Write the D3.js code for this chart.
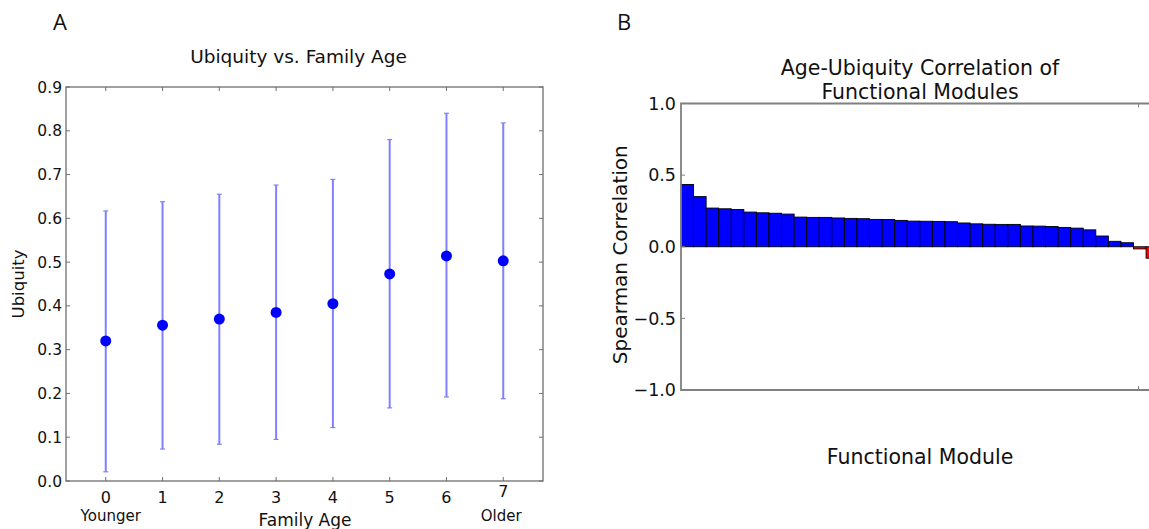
<!DOCTYPE html>
<html>
<head>
<meta charset="utf-8">
<script src="https://cdn.jsdelivr.net/npm/d3@7/dist/d3.min.js"></script>
<style>
  html, body { margin: 0; padding: 0; background: #fff; }
  svg { display: block; font-family: "DejaVu Sans", sans-serif; }
</style>
</head>
<body>
<svg id="chart" width="1149" height="529"></svg>
<script>
// ---------- Panel A data ----------
const ageCategories = [0, 1, 2, 3, 4, 5, 6, 7];
const ageTickLabels = ["0", "1", "2", "3", "4", "5", "6", "7"];
const ubiquityMean  = [0.320, 0.356, 0.370, 0.385, 0.405, 0.473, 0.514, 0.503];
const ubiquityUpper = [0.617, 0.638, 0.655, 0.676, 0.689, 0.780, 0.840, 0.818];
const ubiquityLower = [0.021, 0.073, 0.084, 0.095, 0.122, 0.167, 0.192, 0.188];
const ubiquityTicks = [0.0, 0.1, 0.2, 0.3, 0.4, 0.5, 0.6, 0.7, 0.8, 0.9];

// ---------- Panel B data ----------
const spearmanValues = [
  0.435, 0.350, 0.270, 0.265, 0.260, 0.242, 0.237, 0.234, 0.228, 0.207,
  0.205, 0.205, 0.201, 0.198, 0.196, 0.191, 0.190, 0.184, 0.179, 0.178,
  0.177, 0.175, 0.166, 0.160, 0.157, 0.156, 0.156, 0.145, 0.144, 0.141,
  0.135, 0.130, 0.118, 0.075, 0.038, 0.028, -0.015, -0.080
];
const spearmanTicks = [-1.0, -0.5, 0.0, 0.5, 1.0];
const moduleTicks = [36.4];

const svg = d3.select("#chart");
const fmt1 = d3.format(".1f");
const minusFmt = v => fmt1(v).replace("-", "\u2212");

// ================= Panel A =================
const A = { left: 66, right: 543, top: 87, bottom: 481 };
const xA = d3.scaleLinear().domain([-0.7, 7.7]).range([A.left, A.right]);
const yA = d3.scaleLinear().domain([0, 0.9]).range([A.bottom, A.top]);
const gA = svg.append("g");

// frame
gA.append("rect").attr("x", A.left).attr("y", A.top)
  .attr("width", A.right - A.left).attr("height", A.bottom - A.top)
  .attr("fill", "none").attr("stroke", "#6e6e6e").attr("stroke-width", 1.3);

// ticks inward on all sides
const tickLen = 4;
gA.append("g").selectAll("line").data(ubiquityTicks).join("line")
  .attr("x1", A.left).attr("x2", A.left + tickLen)
  .attr("y1", d => yA(d)).attr("y2", d => yA(d)).attr("stroke", "#6e6e6e");
gA.append("g").selectAll("line").data(ubiquityTicks).join("line")
  .attr("x1", A.right).attr("x2", A.right - tickLen)
  .attr("y1", d => yA(d)).attr("y2", d => yA(d)).attr("stroke", "#6e6e6e");
gA.append("g").selectAll("line").data(ageCategories).join("line")
  .attr("x1", d => xA(d)).attr("x2", d => xA(d))
  .attr("y1", A.bottom).attr("y2", A.bottom - tickLen).attr("stroke", "#6e6e6e");
gA.append("g").selectAll("line").data(ageCategories).join("line")
  .attr("x1", d => xA(d)).attr("x2", d => xA(d))
  .attr("y1", A.top).attr("y2", A.top + tickLen).attr("stroke", "#6e6e6e");

// tick labels
gA.append("g").selectAll("text").data(ubiquityTicks).join("text")
  .attr("x", A.left - 4).attr("y", d => yA(d)).attr("dy", "0.36em")
  .attr("text-anchor", "end").attr("font-size", 15.5).attr("fill", "#111")
  .text(d => fmt1(d));
gA.append("g").selectAll("text").data(ageCategories).join("text")
  .attr("x", d => xA(d)).attr("y", (d, i) => i === 7 ? 497 : 503)
  .attr("text-anchor", "middle").attr("font-size", 16).attr("fill", "#111")
  .text((d, i) => ageTickLabels[i]);
gA.append("text").attr("x", xA(0) + 5).attr("y", 521).attr("text-anchor", "middle")
  .attr("font-size", 15).attr("fill", "#111").text("Younger");
gA.append("text").attr("x", xA(7) - 2).attr("y", 521).attr("text-anchor", "middle")
  .attr("font-size", 15).attr("fill", "#111").text("Older");
gA.append("text").attr("x", 305).attr("y", 526).attr("text-anchor", "middle")
  .attr("font-size", 17).attr("fill", "#111").text("Family Age");
gA.append("text").attr("transform", `translate(24,${(A.top + A.bottom) / 2}) rotate(-90)`)
  .attr("text-anchor", "middle").attr("font-size", 16.5).attr("fill", "#111").text("Ubiquity");
gA.append("text").attr("x", (A.left + A.right) / 2 - 6).attr("y", 63).attr("text-anchor", "middle")
  .attr("font-size", 18.5).attr("fill", "#111").text("Ubiquity vs. Family Age");
svg.append("text").attr("x", 53).attr("y", 30).attr("font-family", "'Open Sans', sans-serif")
  .attr("font-size", 22).attr("fill", "#111").text("A");

// error bars
const errColor = "#8080ff";
const eb = gA.append("g");
eb.selectAll("line.bar").data(ageCategories).join("line").attr("class", "bar")
  .attr("x1", d => xA(d)).attr("x2", d => xA(d))
  .attr("y1", (d, i) => yA(ubiquityLower[i])).attr("y2", (d, i) => yA(ubiquityUpper[i]))
  .attr("stroke", errColor).attr("stroke-width", 2);
eb.selectAll("line.capTop").data(ageCategories).join("line").attr("class", "capTop")
  .attr("x1", d => xA(d) - 2.5).attr("x2", d => xA(d) + 2.5)
  .attr("y1", (d, i) => yA(ubiquityUpper[i])).attr("y2", (d, i) => yA(ubiquityUpper[i]))
  .attr("stroke", errColor).attr("stroke-width", 1.2);
eb.selectAll("line.capBot").data(ageCategories).join("line").attr("class", "capBot")
  .attr("x1", d => xA(d) - 2.5).attr("x2", d => xA(d) + 2.5)
  .attr("y1", (d, i) => yA(ubiquityLower[i])).attr("y2", (d, i) => yA(ubiquityLower[i]))
  .attr("stroke", errColor).attr("stroke-width", 1.2);
gA.append("g").selectAll("circle").data(ageCategories).join("circle")
  .attr("cx", d => xA(d)).attr("cy", (d, i) => yA(ubiquityMean[i]))
  .attr("r", 5.5).attr("fill", "#0000ff");

// ================= Panel B =================
const B = { left: 681, top: 103.5, bottom: 390 };
const barW = 12.57;
const xB = d3.scaleLinear().domain([0, 40]).range([B.left, B.left + 40 * barW]);
const yB = d3.scaleLinear().domain([-1, 1]).range([B.bottom, B.top]);
const gB = svg.append("g");

// bars
gB.append("g").selectAll("rect").data(spearmanValues).join("rect")
  .attr("x", (d, i) => xB(i)).attr("width", xB(1) - xB(0))
  .attr("y", d => yB(Math.max(0, d)))
  .attr("height", d => Math.abs(yB(d) - yB(0)))
  .attr("fill", d => d >= 0 ? "#0000ff" : "#ff0000")
  .attr("stroke", "#000").attr("stroke-width", 0.9);

// frame (right edge off-canvas)
const frameRight = xB(40);
gB.append("path")
  .attr("d", `M${frameRight},${B.top}H${B.left}V${B.bottom}H${frameRight}`)
  .attr("fill", "none").attr("stroke", "#808080").attr("stroke-width", 1.8);

// y ticks
gB.append("g").selectAll("line").data(spearmanTicks).join("line")
  .attr("x1", B.left).attr("x2", B.left + 4)
  .attr("y1", d => yB(d)).attr("y2", d => yB(d)).attr("stroke", "#808080");
gB.append("g").selectAll("text").data(spearmanTicks).join("text")
  .attr("x", B.left - 5).attr("y", d => yB(d)).attr("dy", "0.36em")
  .attr("text-anchor", "end").attr("font-size", 17.5).attr("fill", "#111")
  .text(d => minusFmt(d));
// x ticks (top & bottom)
gB.append("g").selectAll("line").data(moduleTicks).join("line")
  .attr("x1", d => xB(d)).attr("x2", d => xB(d))
  .attr("y1", B.top).attr("y2", B.top + 4).attr("stroke", "#808080");
gB.append("g").selectAll("line").data(moduleTicks).join("line")
  .attr("x1", d => xB(d)).attr("x2", d => xB(d))
  .attr("y1", B.bottom).attr("y2", B.bottom - 4).attr("stroke", "#808080");

// labels
gB.append("text").attr("x", 920).attr("y", 75).attr("text-anchor", "middle")
  .attr("font-size", 20.5).attr("fill", "#111").text("Age-Ubiquity Correlation of");
gB.append("text").attr("x", 920).attr("y", 99).attr("text-anchor", "middle")
  .attr("font-size", 20.5).attr("fill", "#111").text("Functional Modules");
gB.append("text").attr("x", 920).attr("y", 464).attr("text-anchor", "middle")
  .attr("font-size", 20.5).attr("fill", "#111").text("Functional Module");
gB.append("text").attr("transform", `translate(627,${yB(0) + 8}) rotate(-90)`)
  .attr("text-anchor", "middle").attr("font-size", 20).attr("fill", "#111").text("Spearman Correlation");
svg.append("text").attr("x", 617).attr("y", 30).attr("font-family", "'Open Sans', sans-serif")
  .attr("font-size", 22).attr("fill", "#111").text("B");
</script>
</body>
</html>
